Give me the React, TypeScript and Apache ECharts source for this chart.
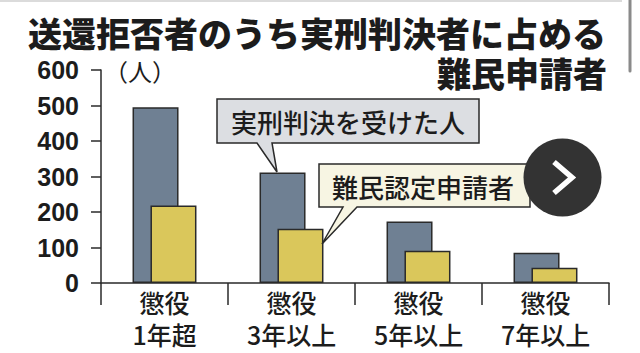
import React, { useEffect, useRef } from "react";
import * as echarts from "echarts";

const categories = ["懲役\n1年超", "懲役\n3年以上", "懲役\n5年以上", "懲役\n7年以上"];
const convicted = [495, 311, 173, 85];
const applicants = [218, 153, 91, 43];
const yTicks = [0, 100, 200, 300, 400, 500, 600];
const titleLine1 = "送還拒否者のうち実刑判決者に占める";
const titleLine2 = "難民申請者";
const unitLabel = "（人）";
const seriesNames = ["実刑判決を受けた人", "難民認定申請者"];

const JP = "'Noto Sans CJK JP', 'Noto Sans', sans-serif";
const INK = "#1c1c1c";

export default function App() {
  const ref = useRef<HTMLDivElement>(null);
  useEffect(() => {
    if (!ref.current) return;
    const chart = echarts.init(ref.current, undefined, { renderer: "svg" });
    chart.setOption({
      animation: false,
      backgroundColor: "#ffffff",
      grid: { left: 101, right: 31, top: 70, bottom: 70, containLabel: false },
      xAxis: {
        type: "category",
        data: categories,
        axisLine: { show: true, lineStyle: { color: "#2a2a2a", width: 1.5 } },
        axisTick: { show: true, length: 22, lineStyle: { color: "#2a2a2a", width: 1.5 } },
        axisLabel: {
          margin: 3,
          fontSize: 25,
          fontWeight: 500,
          lineHeight: 32,
          color: INK,
          fontFamily: JP,
        },
      },
      yAxis: {
        type: "value",
        min: yTicks[0],
        max: yTicks[yTicks.length - 1],
        interval: 100,
        splitLine: { show: false },
        axisLine: { show: true, lineStyle: { color: "#2a2a2a", width: 1.5 } },
        axisTick: { show: true, length: 10, lineStyle: { color: "#2a2a2a", width: 1.5 } },
        axisLabel: {
          margin: 22,
          fontSize: 25,
          fontWeight: "bold",
          color: INK,
          fontFamily: "'Liberation Sans', Arial, sans-serif",
        },
      },
      series: [
        {
          name: seriesNames[0],
          type: "bar",
          data: convicted,
          barWidth: 46,
          barGap: "-61%",
          itemStyle: { color: "#6f8093", borderColor: "#2a2a2a", borderWidth: 1.5 },
        },
        {
          name: seriesNames[1],
          type: "bar",
          data: applicants,
          barWidth: 46,
          barGap: "-61%",
          itemStyle: { color: "#dac75b", borderColor: "#2a2a2a", borderWidth: 1.5 },
        },
      ],
      graphic: [
        { type: "line", shape: { x1: 0, y1: 1, x2: 622, y2: 1 }, style: { stroke: "#cfcfcf", lineWidth: 1.5 } },
        { type: "line", shape: { x1: 630, y1: 0, x2: 630, y2: 71 }, style: { stroke: "#8a8a8a", lineWidth: 3, lineCap: "round" } },
        {
          type: "text",
          x: 28,
          y: 32,
          style: { text: titleLine1, font: `900 34px ${JP}`, lineHeight: 34, fill: INK, textVerticalAlign: "middle" },
        },
        {
          type: "text",
          x: 607,
          y: 72,
          style: { text: titleLine2, font: `900 34px ${JP}`, lineHeight: 34, fill: INK, textAlign: "right", textVerticalAlign: "middle" },
        },
        {
          type: "text",
          x: 104,
          y: 70,
          style: { text: unitLabel, font: `24px ${JP}`, lineHeight: 24, fill: INK, textVerticalAlign: "middle" },
        },
        {
          type: "polygon",
          z: 10,
          shape: {
            points: [[217, 99], [479, 99], [479, 143], [272, 143], [277, 172], [257, 143], [217, 143]],
          },
          style: { fill: "#dcdee2", stroke: "#2a2a2a", lineWidth: 1.5 },
        },
        {
          type: "text",
          z: 11,
          x: 348,
          y: 121,
          style: { text: seriesNames[0], font: `500 26px ${JP}`, fill: INK, textAlign: "center", textVerticalAlign: "middle" },
        },
        {
          type: "polygon",
          z: 10,
          shape: {
            points: [[319, 164], [530, 164], [530, 207], [357, 207], [322, 244], [343, 207], [319, 207]],
          },
          style: { fill: "#f7f5e3", stroke: "#2a2a2a", lineWidth: 1.5 },
        },
        {
          type: "text",
          z: 11,
          x: 332,
          y: 186,
          style: { text: seriesNames[1], font: `500 26px ${JP}`, fill: INK, textVerticalAlign: "middle" },
        },
        {
          type: "circle",
          z: 20,
          shape: { cx: 562.5, cy: 177.5, r: 39 },
          style: { fill: "#333333" },
        },
        {
          type: "polyline",
          z: 21,
          shape: { points: [[554, 162], [572, 177.5], [554, 193]] },
          style: { stroke: "#ffffff", lineWidth: 5.5, fill: "none", lineJoin: "miter" },
        },
      ],
    });
    return () => chart.dispose();
  }, []);
  return <div ref={ref} style={{ width: 640, height: 353, position: "absolute", left: 0, top: 0 }} />;
}
